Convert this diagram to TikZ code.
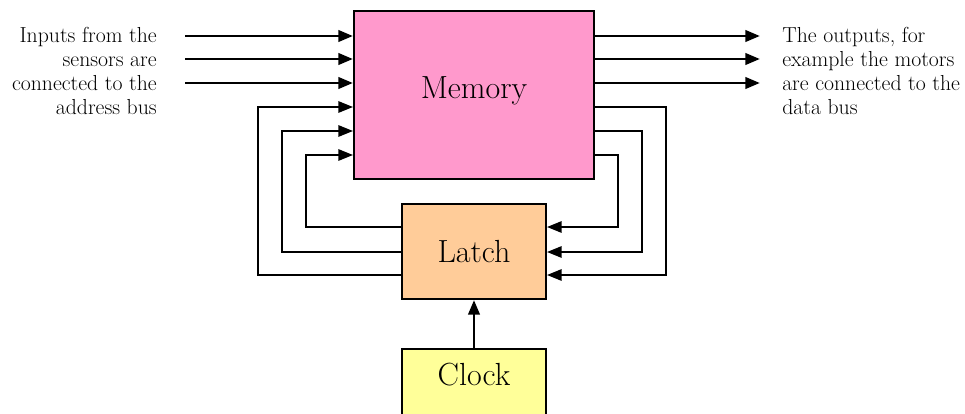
\documentclass[tikz,border=0pt]{standalone}
\usepackage{tikz}
\usetikzlibrary{positioning, arrows.meta}
\definecolor{mempink}{HTML}{FF99CC}
\definecolor{latchorange}{HTML}{FFCC99}
\definecolor{clockyellow}{HTML}{FFFF99}
\tikzset{
  blk/.style={draw, line width=1.5pt, font=\fontsize{24}{28}\selectfont, inner sep=0pt},
  bus/.style={line width=2.2pt, -{Triangle[length=11pt, width=8.5pt]}},
  fb/.style={line width=1.5pt, -{Triangle[length=11pt, width=8.5pt]}},
  lbl/.style={font=\fontsize{16.3}{18}\selectfont, inner sep=0pt}}

\begin{document}
\begin{tikzpicture}[x=0.75pt, y=-0.75pt]
\useasboundingbox (0,0) rectangle (965,414);
\node [blk, fill=mempink, minimum width=180pt, minimum height=126pt,
  label={[font=\fontsize{24}{28}\selectfont, anchor=center, yshift=3pt]center:Memory}] (mem) at (474,95) {};
\node [blk, fill=latchorange, minimum width=108pt, minimum height=71.25pt] (latch) at (474,251.5) {Latch};
\node [blk, fill=clockyellow, minimum width=108pt, minimum height=80pt, anchor=north,
  label={[font=\fontsize{24}{28}\selectfont, anchor=center, yshift=-20.25pt]north:Clock}] (clock) at (474,348) {};
\coordinate (i1) at (185,36);
\coordinate (i2) at (185,59);
\coordinate (i3) at (185,83);
\coordinate (o1) at (760,36);
\coordinate (o2) at (760,59);
\coordinate (o3) at (760,83);
\draw [bus] (i1) -- (i1 -| mem.west);
\draw [bus] (i2) -- (i2 -| mem.west);
\draw [bus] (i3) -- (i3 -| mem.west);
\draw [bus] (o1 -| mem.east) -- (o1);
\draw [bus] (o2 -| mem.east) -- (o2);
\draw [bus] (o3 -| mem.east) -- (o3);
\coordinate (la) at (258,275);
\coordinate (lb) at (282,252);
\coordinate (lc) at (306,227);
\coordinate (ra) at (666,107);
\coordinate (rb) at (642,131);
\coordinate (rc) at (618,155);
\draw [fb] (la -| latch.west) -- (la) |- (mem.west |- 0,107);
\draw [fb] (lb -| latch.west) -- (lb) |- (mem.west |- 0,131);
\draw [fb] (lc -| latch.west) -- (lc) |- (mem.west |- 0,155);
\draw [fb] (ra -| mem.east) -- (ra) |- (latch.east |- la);
\draw [fb] (rb -| mem.east) -- (rb) |- (latch.east |- lb);
\draw [fb] (rc -| mem.east) -- (rc) |- (latch.east |- lc);
\draw [bus] (clock.north) -- (latch.south);
\node [lbl, align=right, anchor=east] (inlbl) at (157,71) {Inputs from the\\sensors are\\connected to the\\address bus};
\node [lbl, align=left, anchor=west] (outlbl) at (782,71) {The outputs, for\\example the motors\\are connected to the\\data bus};
\end{tikzpicture}
\end{document}
